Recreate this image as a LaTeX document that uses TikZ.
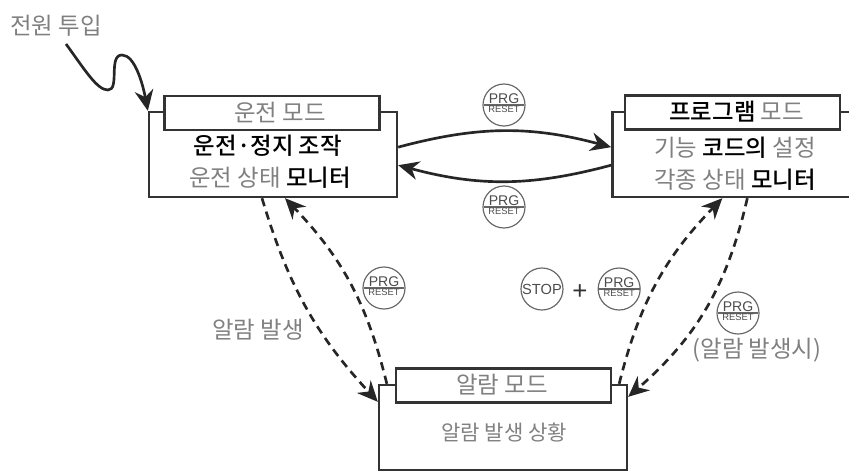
\documentclass[tikz,border=0pt]{standalone}
\usepackage{fontspec}
\setmainfont{Noto Sans CJK KR}
\newfontfamily\keyfont{Liberation Sans}
\newfontfamily\medfont{Noto Sans CJK KR Medium}
\usetikzlibrary{arrows.meta, positioning, shapes.multipart}
\definecolor{softgray}{gray}{0.5}
\newcommand{\darktext}[1]{\textcolor{black}{\medfont #1}}
\newcommand{\prgtext}{{\fontsize{12}{13}\selectfont PRG}\nodepart{lower}RESET}

\begin{document}
\begin{tikzpicture}[
    node distance=1.5cm and 2.5cm,
    modebox/.style={rectangle, draw=black!80, line width=0.07cm, minimum width=7.44cm, minimum height=2.55cm},
    titlebox/.style={rectangle, draw=black!80, fill=white, line width=0.07cm, minimum width=6.45cm, minimum height=1.02cm},
    label/.style={font=\fontsize{20}{24}\selectfont, text=softgray, inner sep=0pt},
    prgkey/.style={circle split, draw=black!60, line width=0.035cm, minimum size=1.26cm, inner sep=0.5pt, text=black!70, font=\keyfont\fontsize{8}{9}\selectfont},
    stopkey/.style={circle, draw=black!60, line width=0.035cm, minimum size=1.26cm, inner sep=0pt, text=black!70, font=\keyfont\fontsize{12.5}{14}\selectfont},
    arrow/.style={-{Stealth[length=0.62cm, width=0.56cm]}, line width=0.08cm, black!85},
    dasharrow/.style={arrow, dash pattern=on 0.25cm off 0.17cm}
]
\useasboundingbox (0,0) rectangle (25.47,-14.13);
\clip (0,0) rectangle (25.47,-14.13);

% Mode boxes
\node[modebox] (run) at (8.19,-4.635) {};
\node[modebox, right=6.39cm of run] (prog) {};
\node[modebox] (alarm) at (15.09,-12.825) {};

% Box titles
\node[titlebox] (runtitle) at (8.16,-3.39) {};
\node[titlebox] (progtitle) at (21.98,-3.37) {};
\node[titlebox] (alarmtitle) at (15.10,-11.56) {};
\node[label] at (8.4,-3.36) {운전 모드};
\node[label] at (22.1,-3.36) {\darktext{프로그램} 모드};
\node[label] at (15.06,-11.55) {알람 모드};

% Box contents
\node[label, text=black, font=\fontsize{20}{24}\medfont] (runa) at (8.04,-4.38) {운전·정지 조작};
\node[label] (runb) at (8.1,-5.34) {운전 상태 \darktext{모니터}};
\node[label] (proga) at (22.05,-4.44) {기능 \darktext{코드의} 설정};
\node[label] (progb) at (22.05,-5.4) {각종 상태 \darktext{모니터}};
\node[label, font=\fontsize{18}{22}\selectfont] (alarma) at (15.12,-12.99) {알람 발생 상황};

% Free labels
\node[label] (power) at (1.68,-0.78) {전원 투입};
\node[label] (raised) at (7.74,-9.9) {알람 발생};
\node[label] (raisedat) at (22.71,-10.5) {(알람 발생시)};
\coordinate (start) at (1.98,-1.32);

% Keys
\node[prgkey] (keya) at (15.12,-3.15) {\prgtext};
\node[prgkey] (keyb) at (15.12,-6.21) {\prgtext};
\node[prgkey] (keyc) at (11.52,-8.64) {\prgtext};
\node[stopkey] (stop) at (16.26,-8.67) {STOP};
\node[prgkey, right=1.02cm of stop] (keyd) {\prgtext};
\node[font=\keyfont\fontsize{22}{24}\selectfont, text=black!80, inner sep=0pt] (plus) at (17.4,-8.76) {+};
\node[prgkey] (keye) at (22.14,-9.39) {\prgtext};

% Power-on line
\draw[arrow] (start) .. controls (2.55,-2.1) and (2.91,-2.7) .. (3.24,-2.7)
    .. controls (3.6,-2.7) and (3.24,-1.65) .. (3.66,-1.65)
    .. controls (4.05,-1.65) and (4.29,-2.55) .. (run.north west);

% Arrows between run and program
\draw[arrow] ([yshift=0.22cm]run.east) to[bend left=15] ([yshift=0.22cm]prog.west);
\draw[arrow] ([yshift=-0.32cm]prog.west) to[bend left=15] ([yshift=-0.32cm]run.east);

% Arrows to and from alarm
\draw[dasharrow] ([xshift=-0.33cm]run.south) to[bend right=13] ([yshift=-0.54cm]alarm.north west);
\draw[dasharrow] ([xshift=0.27cm]alarm.north west) to[bend right=15] ([xshift=0.36cm]run.south);
\draw[dasharrow] ([xshift=-0.27cm]alarm.north east) to[bend left=15] ([xshift=-0.42cm]prog.south);
\draw[dasharrow] ([xshift=0.33cm]prog.south) to[bend left=18] ([yshift=-0.39cm]alarm.north east);

\end{tikzpicture}
\end{document}
